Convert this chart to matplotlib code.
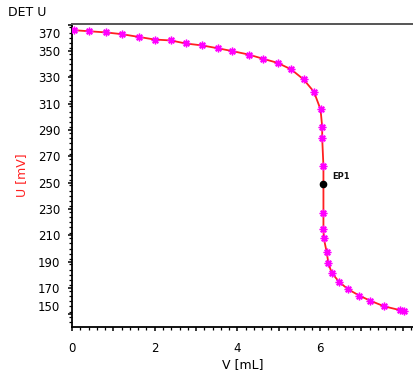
import matplotlib
matplotlib.use("Agg")
import matplotlib.pyplot as plt
from matplotlib.ticker import MultipleLocator, FixedLocator
from matplotlib.transforms import ScaledTranslation

# titration curve
volume_ml = [0.04, 0.41, 0.82, 1.20, 1.61, 2.00, 2.39, 2.75, 3.15, 3.52,
             3.88, 4.27, 4.63, 4.97, 5.30, 5.60, 5.85, 6.01, 6.05, 6.05,
             6.08, 6.08, 6.08, 6.09, 6.16, 6.20, 6.28, 6.46, 6.68, 6.95,
             7.21, 7.55, 7.92, 8.03]
potential_mv = [365.9, 365.1, 364.2, 362.9, 360.8, 358.8, 358.1, 355.8, 354.3, 352.2,
                350.0, 347.4, 344.1, 341.1, 336.1, 328.5, 319.1, 305.7, 292.5, 283.9,
                262.6, 227.2, 214.6, 207.7, 197.1, 188.8, 181.6, 174.6, 169.0, 164.2,
                160.4, 156.1, 153.3, 152.3]

ep_name = "EP1"
ep_volume = 6.08
ep_potential = 249.0

x_ticks = [0, 2, 4, 6]
y_ticks = [150, 170, 190, 210, 230, 250, 270, 290, 310, 330, 350, 370]

fig = plt.figure(figsize=(4.14, 3.72), dpi=100)
ax = fig.add_axes([72 / 414, 45 / 372, 342 / 414, 303 / 372])

# line through the points, then the points on top
line_v = volume_ml[:21] + [ep_volume] + volume_ml[21:]
line_u = potential_mv[:21] + [ep_potential] + potential_mv[21:]
ax.plot(line_v, line_u, color="#ff2020", lw=1.3, zorder=2)
ax.plot(volume_ml, potential_mv, ls="none", marker=(8, 2, 0), ms=5.5, mew=1.0,
        color="#ff00ff", zorder=3)
ax.plot([ep_volume], [ep_potential], "o", color="black", ms=4.5, zorder=4)
ax.annotate(ep_name, (ep_volume, ep_potential), xytext=(6, 4), textcoords="offset points",
            fontsize=6, fontweight="bold", color="#111111")

ax.set_xlim(0, 8.27)
ax.set_ylim(140.4, 370.6)

ax.xaxis.set_minor_locator(MultipleLocator(0.2))
ax.set_xticks(range(0, 9))
ax.set_xticklabels([str(v) if v in x_ticks else "" for v in range(0, 9)])
ax.yaxis.set_major_locator(FixedLocator(y_ticks))
ax.yaxis.set_minor_locator(MultipleLocator(4))
ax.set_yticklabels([str(v) for v in y_ticks])

ax.tick_params(which="major", direction="out", length=3, width=1.1, labelsize=8.5, colors="black")
ax.tick_params(axis="x", which="major", pad=8)
ax.tick_params(axis="y", which="major", pad=5.5)
ax.tick_params(which="minor", direction="out", length=2, width=0.9)

# the end labels sit a little inside, like in the instrument print
fig.canvas.draw()
for lab in ax.get_yticklabels():
    if lab.get_text() == "370":
        lab.set_transform(lab.get_transform() + ScaledTranslation(0, -0.08, fig.dpi_scale_trans))
    if lab.get_text() == "150":
        lab.set_transform(lab.get_transform() + ScaledTranslation(0, 0.085, fig.dpi_scale_trans))

ax.spines["right"].set_visible(False)
ax.spines["left"].set_linewidth(1.3)
ax.spines["bottom"].set_linewidth(1.3)
ax.spines["top"].set_linewidth(1.4)
ax.spines["top"].set_color("#555555")

fig.text(8 / 414, 1 - 12 / 372, "DET U", fontsize=9, va="center", ha="left")
fig.text(22 / 414, 1 - 175 / 372, "U [mV]", fontsize=9, color="#ff2020",
         rotation=90, va="center", ha="center")
fig.text(243 / 414, 1 - 365 / 372, "V [mL]", fontsize=9, va="center", ha="center")

fig.savefig("out.png", dpi=100)
